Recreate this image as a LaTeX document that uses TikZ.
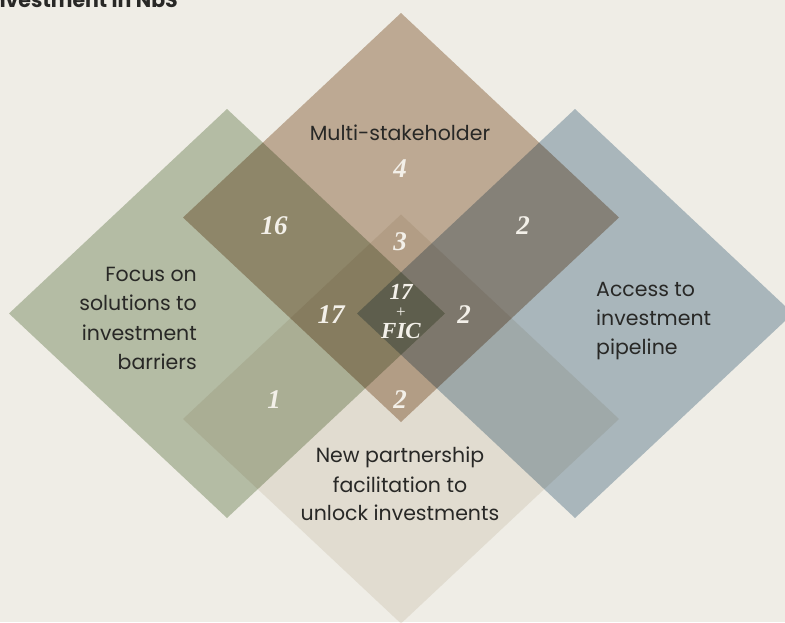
\documentclass[tikz,border=0pt]{standalone}
\usepackage{fontspec}
\setmainfont{Poppins}
\newfontfamily\numfont{Liberation Serif}
\definecolor{bgc}{RGB}{239,237,230}
\definecolor{brownc}{RGB}{202,182,164}
\definecolor{greenc}{RGB}{193,203,182}
\definecolor{bluec}{RGB}{181,196,208}
\definecolor{beigec}{RGB}{241,237,231}
\definecolor{ink}{RGB}{40,40,38}
\definecolor{numc}{RGB}{243,240,233}
\tikzset{
  lbl/.style={font=\fontsize{20.5}{24}\selectfont, text=ink, inner sep=0pt},
  num/.style={font=\numfont\bfseries\itshape\fontsize{27}{30}\selectfont, text=numc, inner sep=0pt, anchor=base},
  numsm/.style={font=\numfont\bfseries\itshape\fontsize{23}{26}\selectfont, text=numc, inner sep=0pt, anchor=base},
}
\begin{document}
\begin{tikzpicture}[x=1pt,y=-1pt]
\useasboundingbox (0,0) rectangle (785,622);
\clip (0,0) rectangle (785,622);
\fill[bgc] (0,0) rectangle (785,622);
\begin{scope}[blend mode=multiply]
  \fill[greenc] (227,109) -- (445,313.5) -- (227,518) -- (9,313.5) -- cycle;
  \fill[bluec] (575,109) -- (793,313.5) -- (575,518) -- (357,313.5) -- cycle;
  \fill[brownc] (401,13) -- (619,217.5) -- (401,422) -- (183,217.5) -- cycle;
  \fill[beigec] (401,214.5) -- (619,419) -- (401,623.5) -- (183,419) -- cycle;
\end{scope}
% title (cut off at the top-left edge, as in the reference)
\node[font=\bfseries\fontsize{20.5}{22}\selectfont, text=ink, inner sep=0pt, anchor=base east] (title) at (178,7) {Investment in NbS};
% labels
\node[lbl, anchor=base] (ms) at (400,140) {Multi-stakeholder};
\node[lbl, anchor=base east] (f1) at (197,281) {Focus on};
\node[lbl, anchor=base east] (f2) at (197,310.5) {solutions to};
\node[lbl, anchor=base east] (f3) at (197,340) {investment};
\node[lbl, anchor=base east] (f4) at (197,369) {barriers};
\node[lbl, anchor=base west] (a1) at (596,296) {Access to};
\node[lbl, anchor=base west] (a2) at (596,325) {investment};
\node[lbl, anchor=base west] (a3) at (596,354) {pipeline};
\node[lbl, anchor=base] (n1) at (400,462.5) {New partnership};
\node[lbl, anchor=base] (n2) at (400,492) {facilitation to};
\node[lbl, anchor=base] (n3) at (400,520.5) {unlock investments};
% numbers
\node[num] (v4) at (400,177) {4};
\node[num] (v16) at (274,234) {16};
\node[num] (v2a) at (523,234) {2};
\node[num] (v3) at (400,250) {3};
\node[num] (v17) at (331,323) {17};
\node[num] (v2b) at (464,323) {2};
\node[num] (v1) at (274,408) {1};
\node[num] (v2c) at (400,408) {2};
\node[numsm] (c17) at (401,299) {17};
\node[numsm, font=\numfont\fontsize{17}{19}\selectfont] (cplus) at (401,317) {+};
\node[numsm] (cfic) at (401,338) {FIC};
\end{tikzpicture}
\end{document}
